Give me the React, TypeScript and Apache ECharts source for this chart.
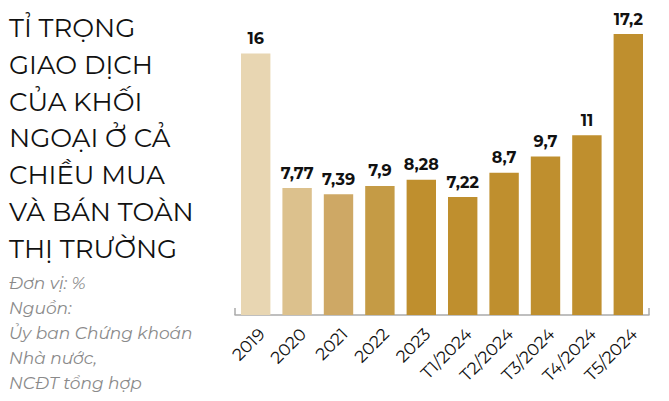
import React, { useEffect, useRef } from "react";
import * as echarts from "echarts";

const categories = ["2019", "2020", "2021", "2022", "2023", "T1/2024", "T2/2024", "T3/2024", "T4/2024", "T5/2024"];
const values = [16, 7.77, 7.39, 7.9, 8.28, 7.22, 8.7, 9.7, 11, 17.2];
const barColors = ["#e8d6b2", "#dcc18d", "#cea865", "#c59b45", "#bf8f2e", "#bf8f2e", "#bf8f2e", "#bf8f2e", "#bf8f2e", "#bf8f2e"];
const titleLines = ["TỈ TRỌNG", "GIAO DỊCH", "CỦA KHỐI", "NGOẠI Ở CẢ", "CHIỀU MUA", "VÀ BÁN TOÀN", "THỊ TRƯỜNG"];
const noteLines = ["Đơn vị: %", "Nguồn:", "Ủy ban Chứng khoán", "Nhà nước,", "NCĐT tổng hợp"];

const FONT = "Montserrat, Inter, 'Noto Sans', sans-serif";

export default function App() {
  const ref = useRef<HTMLDivElement>(null);
  useEffect(() => {
    if (!ref.current) return;
    const chart = echarts.init(ref.current, null, { renderer: "svg" });
    chart.setOption({
      animation: false,
      backgroundColor: "#ffffff",
      grid: { left: 235, right: 20, top: 34, bottom: 86 },
      xAxis: {
        type: "category",
        data: categories,
        axisLine: { show: true, lineStyle: { color: "#aaaaaa", width: 1.5 } },
        axisTick: {
          show: true,
          inside: true,
          length: 7,
          interval: (i: number) => i === 0 || i === categories.length,
          lineStyle: { color: "#aaaaaa", width: 1.5 },
        },
        axisLabel: {
          rotate: 45,
          interval: 0,
          margin: 10,
          align: "right",
          verticalAlign: "top",
          color: "#111111",
          fontSize: 17,
          fontFamily: FONT,
        },
      },
      yAxis: { type: "value", min: 0, max: 17.2, show: false, splitLine: { show: false } },
      series: [
        {
          type: "bar",
          barCategoryGap: "29%",
          data: values.map((v, i) => ({ value: v, itemStyle: { color: barColors[i] } })),
          label: {
            show: true,
            position: "top",
            distance: 7,
            color: "#111111",
            fontSize: 16,
            fontWeight: "bold",
            fontFamily: FONT,
            formatter: (p: any) => String(p.value).replace(".", ","),
          },
        },
      ],
      graphic: [
        {
          type: "text",
          left: 9,
          top: 10,
          style: {
            text: titleLines.join("\n"),
            font: `400 26px ${FONT}`,
            lineHeight: 36.7,
            fill: "#111111",
          },
        },
        {
          type: "text",
          left: 9,
          top: 270,
          style: {
            text: noteLines.join("\n"),
            font: `italic 400 17px ${FONT}`,
            lineHeight: 25.2,
            fill: "#8a8a8a",
          },
        },
      ],
    });
    return () => chart.dispose();
  }, []);
  return <div ref={ref} style={{ width: 669, height: 401, position: "absolute", left: 0, top: 0 }} />;
}
